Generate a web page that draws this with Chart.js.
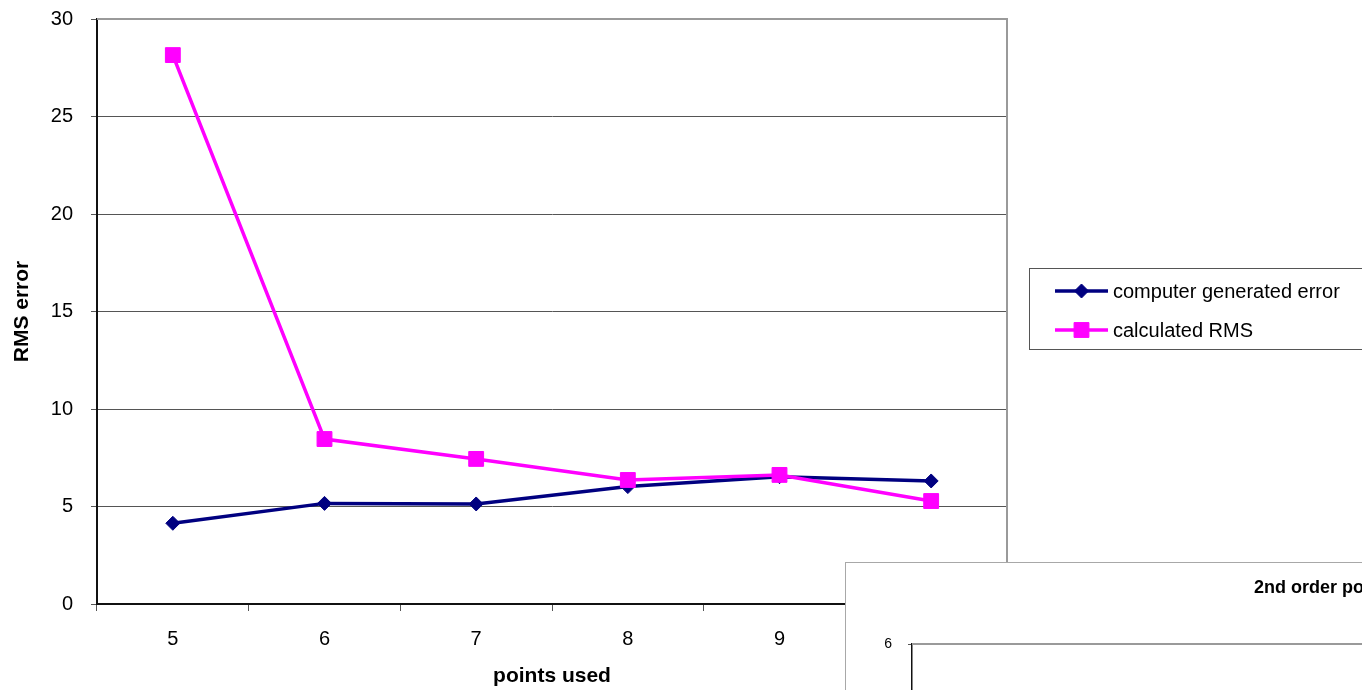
<!DOCTYPE html>
<html>
<head>
<meta charset="utf-8">
<title>RMS error vs points used</title>
<script src="https://cdn.jsdelivr.net/npm/chart.js@4/dist/chart.umd.min.js"></script>
<style>
  html, body { margin: 0; padding: 0; background: #fff; overflow: hidden; }
  #wrap { position: relative; width: 1362px; height: 690px; overflow: hidden; background: #fff; }
  #main { position: absolute; left: 0; top: 0; }
  #inset { position: absolute; left: 845px; top: 562px; width: 900px; height: 420px;
           background: #fff; border: 1px solid #a8a8a8; }
  #inset canvas { position: absolute; left: 0; top: 0; }
</style>
</head>
<body>
<div id="wrap">
  <canvas id="main" width="1362" height="690"></canvas>
  <div id="inset"><canvas id="second" width="900" height="420"></canvas></div>
</div>
<script>
// Number of points used in each fit
const pointsUsed = ['5', '6', '7', '8', '9', '10'];
// Error reported by the fitting program
const computerError = [4.14, 5.16, 5.13, 6.02, 6.53, 6.31];
// RMS error worked out by hand
const calculatedRms = [28.15, 8.46, 7.44, 6.36, 6.62, 5.28];
// Value axis ticks
const rmsTicks = [0, 5, 10, 15, 20, 25, 30];
// Second chart (partly visible) value axis range
const secondTicks = [0, 1, 2, 3, 4, 5, 6];

const FONT = "'Liberation Sans', Arial, Helvetica, sans-serif";

// Gray frame on the top and right side of the plot area
const plotFrame = {
  id: 'plotFrame',
  beforeDatasetsDraw(chart, args, opts) {
    const { ctx, chartArea: a } = chart;
    ctx.save();
    ctx.strokeStyle = opts.color;
    ctx.lineWidth = opts.width;
    ctx.beginPath();
    ctx.moveTo(a.left, a.top);
    ctx.lineTo(a.right, a.top);
    ctx.lineTo(a.right, a.bottom);
    ctx.stroke();
    ctx.restore();
  }
};

// Boxed legend with line + marker samples, placed right of the plot
const sideLegend = {
  id: 'sideLegend',
  afterDraw(chart, args, o) {
    const ctx = chart.ctx;
    ctx.save();
    ctx.fillStyle = '#fff';
    ctx.fillRect(o.x, o.y, o.width, o.height);
    ctx.strokeStyle = o.borderColor;
    ctx.lineWidth = 1;
    ctx.strokeRect(o.x + 0.5, o.y + 0.5, o.width, o.height);
    chart.data.datasets.forEach((ds, i) => {
      const y = o.y + o.firstRow + i * o.rowGap;
      const x0 = o.x + o.sampleStart;
      const x1 = x0 + o.sampleLength;
      ctx.strokeStyle = ds.borderColor;
      ctx.lineWidth = ds.borderWidth;
      ctx.beginPath();
      ctx.moveTo(x0, y);
      ctx.lineTo(x1, y);
      ctx.stroke();
      ctx.fillStyle = ds.pointBackgroundColor;
      ctx.strokeStyle = ds.pointBorderColor;
      ctx.lineWidth = ds.pointBorderWidth;
      Chart.helpers.drawPoint(ctx, {
        pointStyle: ds.pointStyle, radius: ds.pointRadius, rotation: 0,
        borderWidth: ds.pointBorderWidth
      }, (x0 + x1) / 2, y);
      ctx.fillStyle = '#000';
      ctx.font = o.font;
      ctx.textBaseline = 'middle';
      ctx.textAlign = 'left';
      ctx.fillText(ds.label, x1 + o.textGap, y + 1);
    });
    ctx.restore();
  }
};

new Chart(document.getElementById('main'), {
  type: 'line',
  data: {
    labels: pointsUsed,
    datasets: [
      {
        label: 'computer generated error',
        data: computerError,
        borderColor: '#000080',
        backgroundColor: '#000080',
        borderWidth: 3.5,
        pointStyle: 'rectRot',
        pointRadius: 7,
        pointBorderWidth: 1,
        pointBackgroundColor: '#000080',
        pointBorderColor: '#000080',
        tension: 0,
        order: 1
      },
      {
        label: 'calculated RMS',
        data: calculatedRms,
        borderColor: '#ff00ff',
        backgroundColor: '#ff00ff',
        borderWidth: 3.5,
        pointStyle: 'rect',
        pointRadius: 10.5,
        pointBorderWidth: 1,
        pointBackgroundColor: '#ff00ff',
        pointBorderColor: '#ff00ff',
        tension: 0,
        order: 0
      }
    ]
  },
  options: {
    responsive: false,
    animation: false,
    events: [],
    layout: { padding: { left: 0, top: 19, right: 355, bottom: 0 } },
    plugins: {
      legend: { display: false },
      tooltip: { enabled: false },
      plotFrame: { color: '#9a9a9a', width: 2 },
      sideLegend: {
        x: 1029, y: 268, width: 420, height: 81,
        firstRow: 23, rowGap: 39,
        sampleStart: 26, sampleLength: 53, textGap: 5,
        borderColor: '#555',
        font: '20px ' + FONT
      }
    },
    scales: {
      x: {
        type: 'category',
        offset: true,
        afterFit(scale) { scale.height = 86; },
        grid: {
          offset: true,
          drawOnChartArea: false,
          drawTicks: true,
          tickLength: 7,
          color: '#555',
          tickColor: '#555'
        },
        border: { display: true, color: '#111', width: 2 },
        ticks: { color: '#000', font: { family: FONT, size: 20 }, padding: 16, maxRotation: 0 },
        title: {
          display: true,
          text: 'points used',
          color: '#000',
          font: { family: FONT, size: 21, weight: 'bold' },
          padding: { top: 0, bottom: 1 }
        }
      },
      y: {
        min: rmsTicks[0],
        max: rmsTicks[rmsTicks.length - 1],
        afterFit(scale) {
          scale.width = 97;
          // the frame padding already leaves room for the end labels
          scale.paddingTop = 0;
          scale.paddingBottom = 0;
        },
        afterBuildTicks(scale) { scale.ticks = rmsTicks.map(v => ({ value: v })); },
        grid: {
          color: '#555',
          tickColor: '#555',
          lineWidth: 1,
          drawTicks: true,
          tickLength: 6
        },
        border: { display: true, color: '#111', width: 2 },
        ticks: { color: '#000', font: { family: FONT, size: 20 }, padding: 18 },
        title: {
          display: true,
          text: 'RMS error',
          color: '#000',
          font: { family: FONT, size: 21, weight: 'bold' },
          padding: { top: 10, bottom: 0 }
        }
      }
    }
  },
  plugins: [plotFrame, sideLegend]
});

// Title of the second chart, left-anchored
const insetTitle = {
  id: 'insetTitle',
  afterDraw(chart, args, o) {
    const ctx = chart.ctx;
    ctx.save();
    ctx.fillStyle = '#000';
    ctx.font = o.font;
    ctx.textBaseline = 'middle';
    ctx.textAlign = 'left';
    ctx.fillText(o.text, o.x, o.y);
    ctx.restore();
  }
};

new Chart(document.getElementById('second'), {
  type: 'line',
  data: { labels: pointsUsed, datasets: [] },
  options: {
    responsive: false,
    animation: false,
    events: [],
    layout: { padding: { left: 0, top: 81, right: 0, bottom: 0 } },
    plugins: {
      legend: { display: false },
      tooltip: { enabled: false },
      plotFrame: { color: '#9a9a9a', width: 2 },
      insetTitle: {
        text: '2nd order polynomial',
        x: 408, y: 25,
        font: 'bold 18px ' + FONT
      }
    },
    scales: {
      x: { display: false },
      y: {
        min: secondTicks[0],
        max: secondTicks[secondTicks.length - 1],
        afterFit(scale) {
          scale.width = 66;
          scale.paddingTop = 0;
          scale.paddingBottom = 0;
        },
        afterBuildTicks(scale) { scale.ticks = secondTicks.map(v => ({ value: v })); },
        grid: { drawOnChartArea: false, drawTicks: true, tickLength: 4, tickColor: '#555' },
        border: { display: true, color: '#111', width: 1.5 },
        ticks: { color: '#000', font: { family: FONT, size: 14 }, padding: 16 }
      }
    }
  },
  plugins: [plotFrame, insetTitle]
});
</script>
</body>
</html>
